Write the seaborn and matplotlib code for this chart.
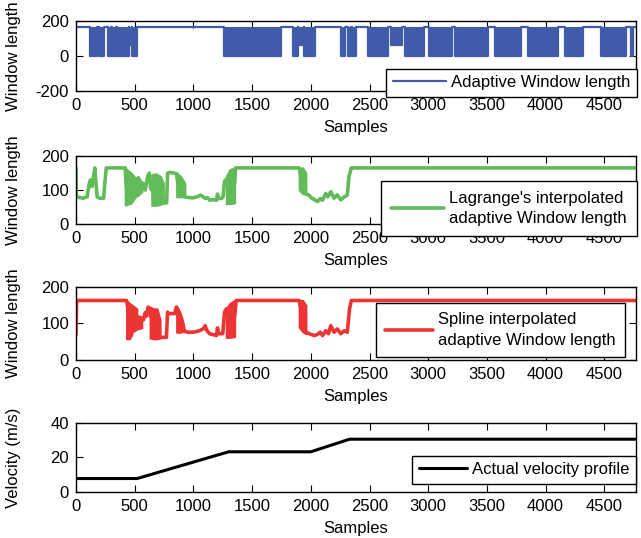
import numpy as np
import pandas as pd
import matplotlib
matplotlib.use("Agg")
import matplotlib.pyplot as plt
import seaborn as sns

# ---- data ----
x_max = 4770
x_ticks = [0, 500, 1000, 1500, 2000, 2500, 3000, 3500, 4000, 4500]

# panel 1: adaptive window length toggles between top and bottom inside these blocks
win_top = 165
block_start = [119, 199, 275, 305, 347, 453, 474, 1258, 1844, 1888, 1944, 2256, 2319, 2350,
               2491, 2680, 2800, 3010, 3225, 3572, 3852, 4165, 4470, 4725]
block_end = [182, 241, 296, 339, 453, 474, 517, 1749, 1888, 1944, 2037, 2287, 2340, 2381,
             2660, 2780, 2960, 3199, 3513, 3792, 4106, 4318, 4682, 4742]
block_low = [0, 0, 0, 0, 0, 60, 0, 0, 0, 60, 0, 0, 0, 0,
             0, 60, 0, 0, 0, 0, 0, 0, 0, 0]

# panel 2: Lagrange interpolated window length (path + dense oscillation envelopes)
lag_x = [0, 2, 30, 60, 95, 110, 123, 135, 150, 160, 170, 180, 200, 236, 245, 258, 419,
         430, 500, 530, 560, 570, 590, 610, 625, 635, 645, 700, 744, 772, 780, 800, 830, 857,
         870, 927, 960, 1000, 1030, 1060, 1083, 1100, 1120, 1139, 1160, 1196, 1205, 1215,
         1240, 1252, 1265, 1275, 1300, 1351, 1360, 1900, 1930, 1958, 1986, 2000, 2029, 2057,
         2080, 2100, 2127, 2145, 2170, 2198, 2225, 2255, 2285, 2311, 2325, 2345, 4800]
lag_y = [165, 80, 78, 76, 80, 115, 130, 110, 140, 165, 120, 80, 76, 76, 120, 165, 165,
         100, 100, 110, 100, 120, 100, 140, 150, 105, 100, 100, 62, 62, 150, 152, 150, 148,
         110, 80, 78, 77, 80, 85, 80, 75, 78, 70, 72, 70, 88, 75,
         75, 80, 125, 130, 110, 120, 165, 165, 120, 88, 85, 78, 72, 66,
         75, 70, 90, 80, 95, 76, 86, 71, 80, 85, 140, 165, 165]
lag_band_x = [[419, 440, 470, 504], [504, 530, 560], [645, 680, 720, 744],
              [857, 890, 927], [1280, 1310, 1351], [1901, 1930, 1958]]
lag_band_lo = [[56, 58, 62, 80], [80, 85, 95], [55, 55, 58, 62],
               [80, 80, 80], [60, 60, 62], [100, 90, 88]]
lag_band_hi = [[164, 158, 150, 135], [135, 140, 120], [145, 148, 140, 120],
               [150, 140, 120], [140, 160, 165], [165, 165, 150]]

# panel 3: spline interpolated window length
spl_x = [0, 5, 430, 460, 530, 575, 590, 600, 615, 625, 635, 680, 715, 770, 780, 790, 840,
         855, 865, 900, 925, 960, 1000, 1050, 1083, 1100, 1115, 1139, 1160, 1196, 1205, 1215,
         1250, 1265, 1280, 1320, 1351, 1365, 1900, 1930, 1958, 1986, 2029, 2057, 2080, 2100,
         2127, 2150, 2170, 2198, 2225, 2255, 2285, 2311, 2330, 2345, 4800]
spl_y = [70, 163, 163, 110, 110, 110, 130, 120, 145, 140, 120, 100, 62, 62, 131, 127, 127,
         145, 140, 110, 78, 76, 76, 80, 85, 94, 80, 72, 70, 67, 88, 72,
         72, 131, 140, 100, 120, 163, 163, 120, 76, 72, 67, 70, 76, 67,
         80, 72, 94, 76, 85, 72, 80, 76, 140, 163, 163]
spl_band_x = [[430, 455, 476], [476, 518], [518, 560], [631, 660, 690, 716],
              [857, 885, 913], [1280, 1310, 1351], [1901, 1930, 1958]]
spl_band_lo = [[58, 58, 70], [76, 85], [85, 88], [60, 58, 58, 60],
               [76, 76, 78], [62, 62, 64], [90, 78, 72]]
spl_band_hi = [[163, 155, 150], [150, 140], [122, 118], [145, 140, 140, 110],
               [145, 130, 100], [140, 155, 163], [163, 163, 150]]

# panel 4: actual velocity profile
vel_x = [0, 520, 1300, 2000, 2330, 4800]
vel_y = [7.8, 7.8, 23.3, 23.3, 30.6, 30.6]

# ---- style ----
sns.set_theme(style="white")
plt.rcParams['font.family'] = ['Liberation Sans', 'DejaVu Sans']
plt.rcParams.update({
    'axes.unicode_minus': False,
    'xtick.direction': 'in', 'ytick.direction': 'in',
    'xtick.top': True, 'ytick.right': True,
    'xtick.bottom': True, 'ytick.left': True,
    'xtick.major.size': 5, 'ytick.major.size': 5,
    'xtick.major.width': 0.8, 'ytick.major.width': 0.8,
    'xtick.color': 'black', 'ytick.color': 'black',
    'axes.edgecolor': 'black', 'axes.linewidth': 1.0,
    'text.color': 'black', 'axes.labelcolor': 'black',
})

c_blue = "#3f5ba9"
c_green = "#62bb59"
c_red = "#ec3434"

fig = plt.figure(figsize=(6.41, 5.38), dpi=100)
left, width = 0.1186, 0.8736
ax1 = fig.add_axes([left, 0.8309, width, 0.1301])
ax2 = fig.add_axes([left, 0.5836, width, 0.1264])
ax3 = fig.add_axes([left, 0.3309, width, 0.1357])
ax4 = fig.add_axes([left, 0.0855, width, 0.1283])

# panel 1
step_x, step_y = [0], [win_top]
for s, e, lo in zip(block_start, block_end, block_low):
    step_x += [s, s, e, e]
    step_y += [win_top, lo, lo, win_top]
step_x.append(x_max)
step_y.append(win_top)
df1 = pd.DataFrame({'Samples': step_x, 'w': step_y})
ax1.fill_between(df1['Samples'], df1['w'], win_top, color=c_blue, lw=0)
sns.lineplot(data=df1, x='Samples', y='w', ax=ax1, sort=False, estimator=None,
             color=c_blue, lw=1.6, label='Adaptive Window length')
ax1.set_ylim(-200, 200)
ax1.set_yticks([-200, 0, 200])

# panel 2
df2 = pd.DataFrame({'Samples': lag_x, 'w': lag_y})
for bx, lo, hi in zip(lag_band_x, lag_band_lo, lag_band_hi):
    ax2.fill_between(bx, lo, hi, color=c_green, lw=1.5, edgecolor=c_green)
sns.lineplot(data=df2, x='Samples', y='w', ax=ax2, sort=False, estimator=None,
             color=c_green, lw=2.6, label="Lagrange's interpolated\nadaptive Window length")
ax2.set_ylim(0, 200)
ax2.set_yticks([0, 100, 200])

# panel 3
df3 = pd.DataFrame({'Samples': spl_x, 'w': spl_y})
for bx, lo, hi in zip(spl_band_x, spl_band_lo, spl_band_hi):
    ax3.fill_between(bx, lo, hi, color=c_red, lw=1.5, edgecolor=c_red)
sns.lineplot(data=df3, x='Samples', y='w', ax=ax3, sort=False, estimator=None,
             color=c_red, lw=2.6, label="Spline interpolated\nadaptive Window length")
ax3.set_ylim(0, 200)
ax3.set_yticks([0, 100, 200])

# panel 4
df4 = pd.DataFrame({'Samples': vel_x, 'v': vel_y})
sns.lineplot(data=df4, x='Samples', y='v', ax=ax4, sort=False, estimator=None,
             color='black', lw=2.2, label='Actual velocity profile')
ax4.set_ylim(0, 40)
ax4.set_yticks([0, 20, 40])

legend_pos = [(1.002, -0.086), (1.002, -0.176), (0.980, 0.04), (1.0, 0.116)]
handle_len = [3.2, 3.2, 2.9, 2.9]
border_pad = [0.4, 0.6, 0.55, 0.4]
ylabels = ["Window length", "Window length", "Window length", "Velocity (m/s)"]
for ax, pos, hl, bp, yl in zip([ax1, ax2, ax3, ax4], legend_pos, handle_len, border_pad, ylabels):
    ax.set_xlim(0, x_max)
    ax.set_xticks(x_ticks)
    ax.tick_params(labelsize=12, pad=5)
    ax.set_xlabel("Samples", fontsize=12, labelpad=5)
    ax.set_ylabel(yl, fontsize=12)
    ax.yaxis.set_label_coords(-0.098, 0.5)
    for sp in ax.spines.values():
        sp.set_visible(True)
        sp.set_color('black')
    leg = ax.legend(loc='lower right', bbox_to_anchor=pos, borderaxespad=0,
                    fontsize=12, frameon=True, fancybox=False, handlelength=hl,
                    borderpad=bp, handletextpad=0.3)
    for t in leg.get_texts():
        t.set_linespacing(1.45)
    leg.get_frame().set_edgecolor('black')
    leg.get_frame().set_linewidth(1.0)
    leg.get_frame().set_alpha(1.0)

fig.savefig("out.png", dpi=100)
